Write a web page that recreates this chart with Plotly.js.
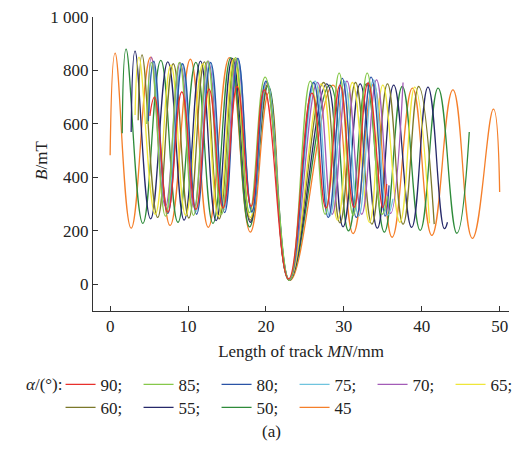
<!DOCTYPE html>
<html><head><meta charset="utf-8">
<script src="https://cdn.plot.ly/plotly-3.0.1.min.js"></script>
<style>html,body{margin:0;padding:0;background:#fff}#chart{width:531px;height:453px}</style>
</head><body><div id="chart"></div>
<script>
// Series labels (alpha in degrees)
const labels = ['90','85','80','75','70','65','60','55','50','45'];
const colors = ['#e8302c','#86c84a','#2a53a6','#6fc4de','#a35bb7','#efe63a','#7b782a','#26296a','#2e8b3a','#f57f2a'];

// Track positions (mm) and magnetic field B (mT)
const x90 = [5.1,5.7,7.4,9.2,11.0,12.7,14.5,16.3,18.1,19.8,22.9,25.9,27.7,29.5,31.3,33.1,35.0,35.5];
const y90 = [630,700,270,720,280,730,285,740,292,727,20,715,285,745,288,753,288,375];

const x85 = [4.7,5.3,7.1,8.9,10.7,12.5,14.3,16.1,17.9,19.9,23.0,25.7,27.6,29.4,31.2,33.0,34.9,35.6];
const y85 = [600,830,255,830,258,835,262,848,268,775,15,760,262,790,258,790,262,330];

const x80 = [4.9,5.6,7.4,9.3,11.1,12.9,14.7,16.4,18.2,20.0,23.0,26.1,28.0,29.8,31.6,33.5,35.3,35.8];
const y80 = [610,835,265,825,262,830,268,845,272,760,15,755,250,770,250,775,255,370];

const x75 = [5.0,5.5,7.3,9.2,11.0,12.8,14.6,16.4,18.2,20.1,23.0,26.3,28.2,30.1,31.9,33.8,35.6,36.3];
const y75 = [640,830,280,825,272,830,278,840,268,760,18,760,255,760,255,765,258,320];

const x70 = [4.8,5.3,7.1,9.0,10.8,12.6,14.5,16.3,18.2,20.1,23.0,26.6,28.5,30.4,32.3,34.2,36.0,37.6];
const y70 = [620,850,292,828,288,835,290,845,275,755,18,755,262,760,262,765,265,755];

const x65 = [3.2,3.7,5.8,7.8,9.7,11.9,13.9,15.9,18.0,20.1,23.0,27.1,29.2,31.1,33.3,35.0,37.2,39.1,41.0];
const y65 = [633,850,262,820,258,825,255,845,250,750,15,750,240,755,232,745,232,738,228];

const x60 = [3.6,4.1,6.1,8.1,10.1,12.1,14.0,16.0,18.0,20.2,23.0,27.4,29.5,31.5,33.6,35.6,37.6,39.6,41.6];
const y60 = [614,858,250,825,248,832,245,842,240,745,15,755,230,755,225,750,225,740,225];

const x55 = [2.7,3.2,5.2,7.4,9.5,11.6,13.6,15.7,18.0,20.2,23.0,27.8,29.9,32.1,34.3,36.4,38.7,40.8,42.9,43.3];
const y55 = [570,872,245,832,240,835,238,845,232,745,15,750,215,750,210,745,213,738,208,232];

const x50 = [1.55,2.05,4.2,6.5,8.7,11.0,13.2,15.5,17.9,20.3,23.0,28.2,30.6,32.9,35.2,37.5,39.8,42.1,44.5,46.1];
const y50 = [565,880,228,838,232,830,228,848,215,742,15,745,200,750,195,740,202,734,191,570];

const x45 = [0.0,0.64,2.7,5.2,7.7,10.3,12.6,15.3,18.0,20.4,23.1,28.6,31.2,33.8,36.2,38.8,41.3,44.0,46.5,49.2,50.0];
const y45 = [483,865,210,850,220,842,213,848,195,718,15,745,190,748,176,734,183,727,172,655,345];

const xTicks = [0,10,20,30,40,50];
const yTicks = [0,200,400,600,800,1000];
const yTickText = ['0','200','400','600','800','1 000'];

const xs = [x90,x85,x80,x75,x70,x65,x60,x55,x50,x45];
const ys = [y90,y85,y80,y75,y70,y65,y60,y55,y50,y45];

const font = 'Liberation Serif, Times New Roman, serif';
const traces = [];
for (let i = labels.length - 1; i >= 0; i--) {
  traces.push({
    x: xs[i], y: ys[i], type: 'scatter', mode: 'lines',
    name: labels[i] + (i < labels.length - 1 ? ';' : ''),
    line: {color: colors[i], width: 1.3, shape: 'spline', smoothing: 1.3},
    legend: i < 6 ? 'legend' : 'legend2',
    hoverinfo: 'skip'
  });
}

const axisCommon = {
  ticks: 'inside', ticklen: 5, tickwidth: 1, tickcolor: '#333',
  showline: true, linecolor: '#333', linewidth: 1,
  showgrid: false, zeroline: false,
  tickfont: {family: font, size: 17, color: '#222'}
};

const legendCommon = {
  orientation: 'h', xanchor: 'left', yanchor: 'top',
  traceorder: 'reversed', entrywidth: 33, entrywidthmode: 'pixels',
  font: {family: font, size: 17, color: '#222'},
  bgcolor: 'rgba(0,0,0,0)', borderwidth: 0, itemwidth: 30
};

const layout = {
  width: 531, height: 453,
  margin: {l: 93, r: 22, t: 17, b: 142},
  paper_bgcolor: '#fff', plot_bgcolor: '#fff',
  font: {family: font, size: 17, color: '#222'},
  xaxis: Object.assign({}, axisCommon, {
    range: [-2.2, 51.2], tickmode: 'array', tickvals: xTicks,
    title: {text: 'Length of track <i>MN</i>/mm', font: {family: font, size: 17, color: '#222'}, standoff: 9}
  }),
  yaxis: Object.assign({}, axisCommon, {
    range: [-100, 1000], tickmode: 'array', tickvals: yTicks, ticktext: yTickText
  }),
  showlegend: true,
  legend: Object.assign({}, legendCommon, {x: -0.078, y: -0.19}),
  legend2: Object.assign({}, legendCommon, {x: -0.078, y: -0.268}),
  annotations: [{
    text: '(a)', xref: 'paper', yref: 'paper', x: 0.43, y: -0.41,
    xanchor: 'center', yanchor: 'middle', showarrow: false,
    font: {family: font, size: 17, color: '#222'}
  }, {
    text: '<i>B</i>/mT', xref: 'paper', yref: 'paper', x: -0.1226, y: 0.514,
    xanchor: 'center', yanchor: 'middle', textangle: -90, showarrow: false,
    font: {family: font, size: 17, color: '#222'}
  }, {
    text: '<i>α</i>/(°):', xref: 'paper', yref: 'paper', x: -0.0677, y: -0.2517,
    xanchor: 'right', yanchor: 'middle', showarrow: false,
    font: {family: font, size: 17, color: '#222'}
  }]
};

Plotly.newPlot('chart', traces, layout, {displayModeBar: false, staticPlot: true});
</script>
</body></html>
